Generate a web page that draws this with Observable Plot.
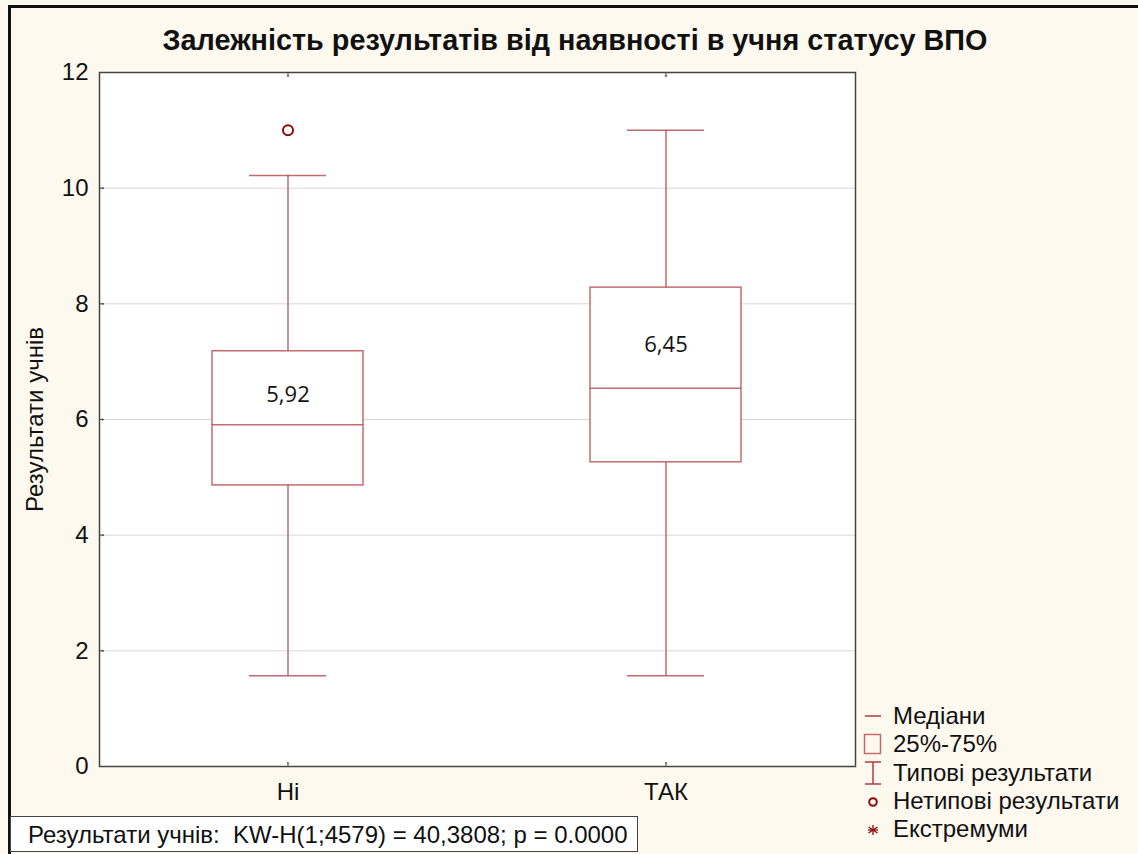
<!DOCTYPE html>
<html>
<head>
<meta charset="utf-8">
<script src="https://cdn.jsdelivr.net/npm/d3@7"></script>
<script src="https://cdn.jsdelivr.net/npm/@observablehq/plot@0.6"></script>
<style>
  html, body { margin: 0; padding: 0; background: #fef9ee; }
  #wrap { position: relative; width: 1138px; height: 854px; overflow: hidden; font-family: "Liberation Sans", Arial, sans-serif; }
  #frame { position: absolute; left: 8px; top: 5px; width: 1300px; height: 1000px; border-left: 3px solid #111; border-top: 3px solid #111; }
  #title { position: absolute; left: 0; top: 24px; width: 1150px; text-align: center; font-weight: bold; font-size: 28.8px; color: #111; }
  #chart { position: absolute; left: 0; top: 0; }
  #legend { position: absolute; left: 862px; top: 702px; font-size: 24px; color: #111; }
  #legend .item { display: flex; align-items: center; height: 28.3px; }
  #legend svg { width: 22px; height: 26px; margin-right: 9px; }
  #caption { position: absolute; left: 10px; top: 816px; width: 628px; height: 36px; border: 1px solid #444; background: #fff; font-size: 24px; line-height: 35px; padding-left: 17px; box-sizing: border-box; color: #111; white-space: pre; }
</style>
</head>
<body>
<div id="wrap">
  <div id="frame"></div>
  <div id="chart"></div>
  <div id="title"></div>
  <div id="legend"></div>
  <div id="caption"></div>
</div>
<script>
const titleText = "Залежність результатів від наявності в учня статусу ВПО";
const yLabel = "Результати учнів";
const captionText = "Результати учнів:  KW-H(1;4579) = 40,3808; p = 0.0000";

const categories = ["Ні", "ТАК"];
const q1 = [4.86, 5.26];
const q3 = [7.18, 8.28];
const medians = [5.91, 6.54];
const whiskerLow = [1.57, 1.57];
const whiskerHigh = [10.22, 11.0];
const boxLabels = ["5,92", "6,45"];
const outlierCats = ["Ні"];
const outlierValues = [11.0];
const yTicks = [0, 2, 4, 6, 8, 10, 12];
const gridTicks = [2, 4, 6, 8, 10];

const legendItems = ["Медіани", "25%-75%", "Типові результати", "Нетипові результати", "Екстремуми"];

const boxes = categories.map((c, i) => ({
  cat: c, q1: q1[i], q3: q3[i], med: medians[i], lo: whiskerLow[i], hi: whiskerHigh[i],
  label: boxLabels[i], labelY: (medians[i] + q3[i]) / 2
}));
const outliers = outlierCats.map((c, i) => ({cat: c, v: outlierValues[i]}));
const yMin = yTicks[0], yMax = yTicks[yTicks.length - 1];

const boxColor = "#ad3b41";
const outlierColor = "#8b0a0a";
const axisColor = "#444";

const chart = Plot.plot({
  width: 1138,
  height: 854,
  marginLeft: 99,
  marginRight: 283,
  marginTop: 72,
  marginBottom: 88,
  style: {background: "transparent", fontFamily: "'Liberation Sans', Arial, sans-serif", color: "#111"},
  x: {type: "band", domain: categories, paddingInner: 0.6, paddingOuter: 0.3},
  y: {domain: [yMin, yMax]},
  marks: [
    Plot.frame({fill: "white", stroke: "none"}),
    Plot.gridY(gridTicks, {stroke: "#d8d8d8", strokeOpacity: 1}),
    Plot.axisY(yTicks, {tickSize: 0, tickPadding: 11, fontSize: 24, tickFormat: d => String(d), label: yLabel, labelAnchor: "center", labelArrow: "none", labelOffset: 74}),
    Plot.axisX({tickSize: 0, tickPadding: 16, fontSize: 24, label: null}),
    Plot.vector(yTicks.slice(1, -1), {y: d => d, frameAnchor: "left", rotate: 90, length: 4, anchor: "start", stroke: axisColor, strokeWidth: 1}),
    Plot.vector(categories, {x: d => d, y: yMin, rotate: 0, length: 4, anchor: "start", stroke: axisColor, strokeWidth: 1}),
    Plot.vector(categories, {x: d => d, y: yMax, rotate: 180, length: 4, anchor: "start", stroke: axisColor, strokeWidth: 1}),
    Plot.ruleX(boxes, {x: "cat", y1: "lo", y2: "q1", stroke: boxColor, strokeOpacity: 0.75, strokeWidth: 1.5}),
    Plot.ruleX(boxes, {x: "cat", y1: "q3", y2: "hi", stroke: boxColor, strokeOpacity: 0.75, strokeWidth: 1.5}),
    Plot.tickY(boxes, {x: "cat", y: "lo", stroke: boxColor, strokeOpacity: 0.75, strokeWidth: 1.5, insetLeft: 37, insetRight: 37}),
    Plot.tickY(boxes, {x: "cat", y: "hi", stroke: boxColor, strokeOpacity: 0.75, strokeWidth: 1.5, insetLeft: 37, insetRight: 37}),
    Plot.barY(boxes, {x: "cat", y1: "q1", y2: "q3", fill: "white", stroke: boxColor, strokeOpacity: 0.75, strokeWidth: 1.5}),
    Plot.tickY(boxes, {x: "cat", y: "med", stroke: boxColor, strokeOpacity: 0.75, strokeWidth: 1.5}),
    Plot.text(boxes, {x: "cat", y: "labelY", text: "label", fontSize: 22, fontFamily: "'Open Sans', sans-serif", fill: "#111", dy: 7}),
    Plot.dot(outliers, {x: "cat", y: "v", r: 5, stroke: outlierColor, strokeWidth: 2, fill: "none"}),
    Plot.frame({stroke: axisColor, strokeWidth: 1.5})
  ]
});
document.getElementById("chart").appendChild(chart);

document.getElementById("title").textContent = titleText;
document.getElementById("caption").textContent = captionText;

const symbols = [
  `<svg viewBox="0 0 22 26"><line x1="3" y1="13" x2="19" y2="13" stroke="${boxColor}" stroke-width="1.5"/></svg>`,
  `<svg viewBox="0 0 22 26"><rect x="2.5" y="3.5" width="16" height="19" fill="none" stroke="${boxColor}" stroke-opacity="0.75" stroke-width="1.5"/></svg>`,
  `<svg viewBox="0 0 22 26"><line x1="3" y1="2" x2="19" y2="2" stroke="${boxColor}" stroke-width="1.5"/><line x1="11" y1="2" x2="11" y2="24" stroke="${boxColor}" stroke-width="1.5"/><line x1="3" y1="24" x2="19" y2="24" stroke="${boxColor}" stroke-width="1.5"/></svg>`,
  `<svg viewBox="0 0 22 26"><circle cx="11" cy="14" r="3.8" fill="none" stroke="${outlierColor}" stroke-width="2"/></svg>`,
  `<svg viewBox="0 0 22 26"><g stroke="${outlierColor}" stroke-width="1.3"><line x1="11" y1="9" x2="11" y2="19"/><line x1="6.5" y1="11" x2="15.5" y2="17"/><line x1="6.5" y1="17" x2="15.5" y2="11"/><line x1="6" y1="14" x2="16" y2="14"/></g></svg>`
];
const legend = document.getElementById("legend");
legendItems.forEach((t, i) => {
  const d = document.createElement("div");
  d.className = "item";
  d.innerHTML = symbols[i] + `<span>${t}</span>`;
  legend.appendChild(d);
});
</script>
</body>
</html>
